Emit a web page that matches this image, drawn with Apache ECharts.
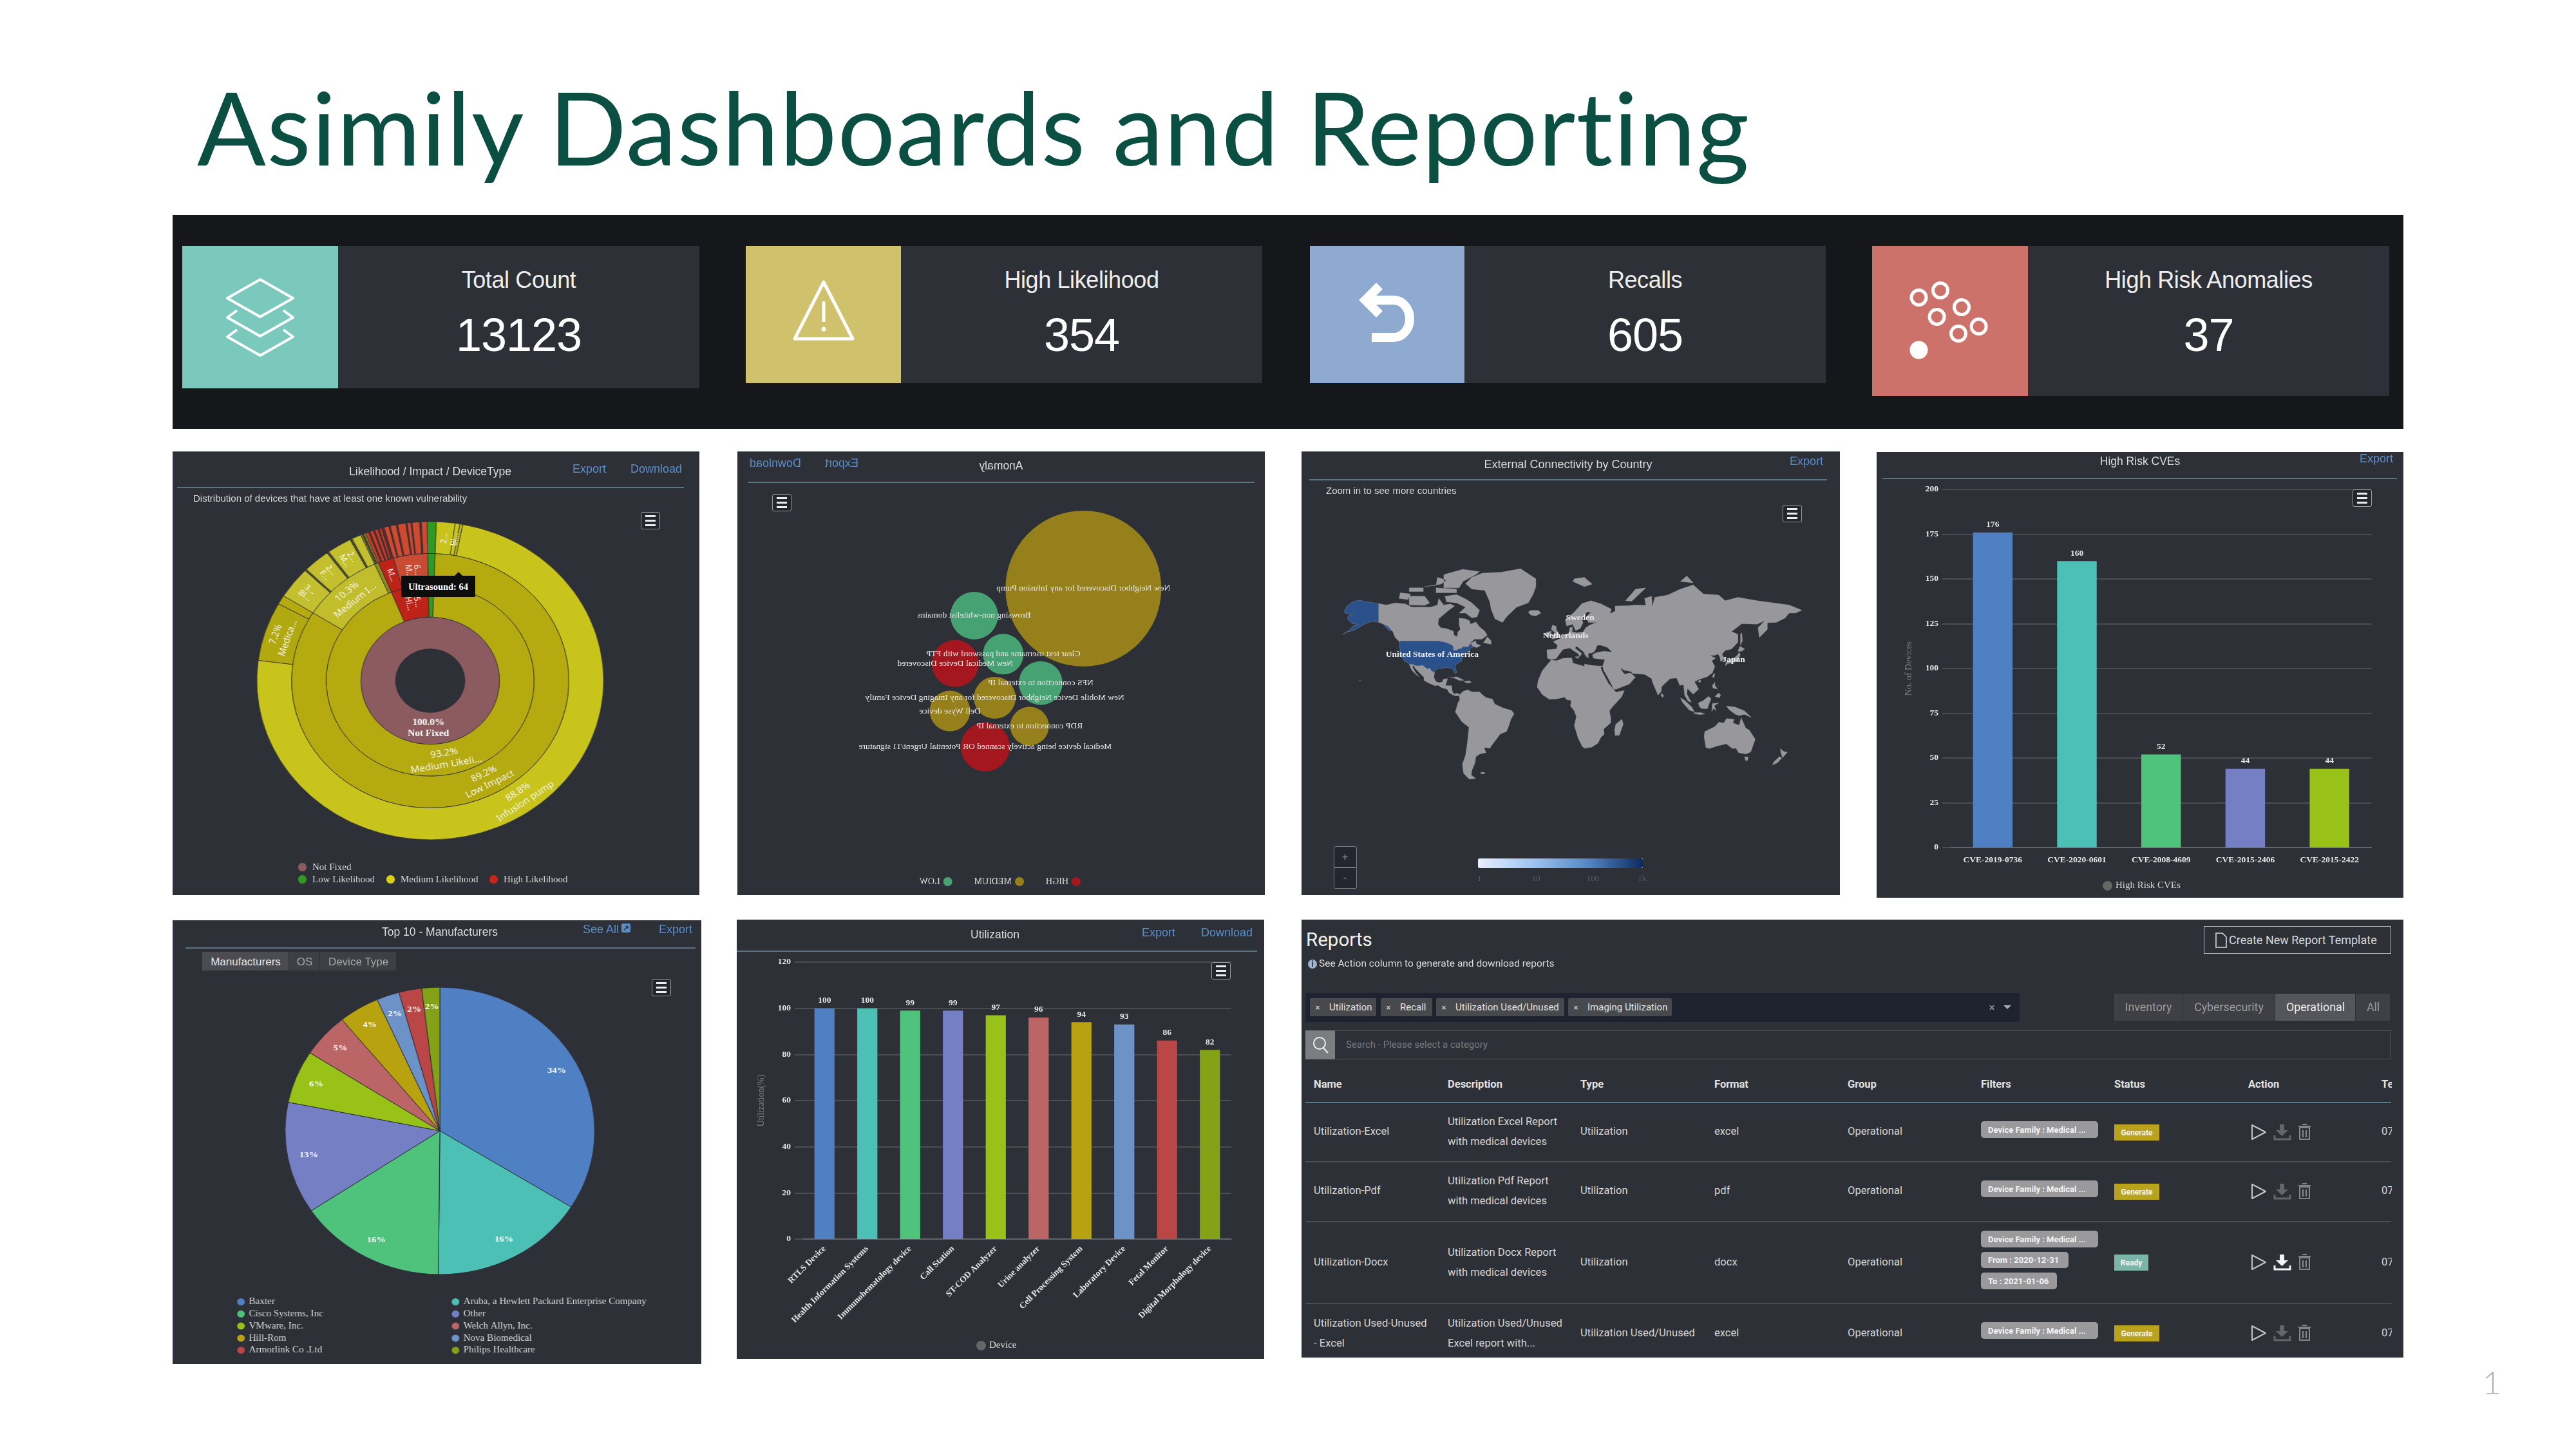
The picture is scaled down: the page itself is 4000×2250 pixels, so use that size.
<!DOCTYPE html>
<html>
<head>
<meta charset="utf-8">
<title>Asimily Dashboards and Reporting</title>
<script src="https://cdn.jsdelivr.net/npm/echarts@6/dist/echarts.min.js"></script>
<style>
html,body{margin:0;padding:0;background:#fff;}
#page{position:relative;width:4000px;height:2250px;overflow:hidden;background:#fff;font-family:"Liberation Sans",Arial,sans-serif;}
.box{position:absolute;}
.panel{position:absolute;background:#2d3037;overflow:hidden;}
.t{position:absolute;white-space:nowrap;line-height:1;transform:translateY(-50%);}
.c{transform:translate(-50%,-50%);}
.link{color:#5b8ec9;font-size:18px;}
.menu{position:absolute;box-sizing:border-box;border:1.5px solid #9a9a9a;border-radius:3px;background:#23262c;}
.menu i{position:absolute;left:20%;right:20%;top:50%;height:3px;margin-top:-1.5px;background:#eee;box-shadow:0 7px 0 #eee,0 -7px 0 #eee;}
.dot{position:absolute;border-radius:50%;}
.chart{position:absolute;left:0;top:0;}
.ext{display:inline-block;width:14px;height:14px;line-height:14px;margin-left:4px;background:#5b8ec9;color:#2d3037;border-radius:2px;font-size:12px;font-weight:bold;text-align:center;vertical-align:top;}
svg.over{position:absolute;left:0;top:0;pointer-events:none;}
</style>
</head>
<body>
<div id="page"></div>
<script>
// top cards
var cardNames = ['Total Count', 'High Likelihood', 'Recalls', 'High Risk Anomalies'];
var cardValues = ['13123', '354', '605', '37'];

// sunburst, counts per ring, clockwise from the top
var likelihoodNames = ['Medium Likelihood', 'High Likelihood', 'Low Likelihood'];
var lowImpactNames = ['Patient Monitor', 'Blood Analyzer', 'Glucose Meter', 'Infusion pump', 'Medical Cart', 'Other'];
var lowImpactCounts = [70, 17, 11, 2953, 239, 37];
var mediumImpactNames = ['Blood Gas', 'Scale', 'Fetal Monitor', 'ECG', 'Monitor', 'Pump', 'Cart'];
var mediumImpactCounts = [128, 7, 100, 8, 92, 8, 35];
var highImpactCounts = [6, 6, 7];
var highMedCounts = [12, 5, 14, 5, 12, 5, 9, 10];
var highLowCounts = [18, 5, 22, 6, 30, 5, 14, 4, 28, 6, 22];
var lowLikelihoodCount = 33;

// anomaly bubbles: x,y in percent of the panel, size in px
var anomalyHighNames = ['New Medical Device Discovered', 'Medical device being actively scanned OR Potential Urgent/11 signature'];
var anomalyHighX = [58.7, 53.0];
var anomalyHighY = [52.2, 33.4];
var anomalyHighSize = [73, 76];
var anomalyMediumNames = ['New Neighbor Discovered for any Infusion Pump', 'New Mobile Device Neighbor Discovered for any Imaging Device Family', 'Dell Wyse device', 'RDP connection to external IP'];
var anomalyMediumX = [34.4, 51.2, 59.7, 44.6];
var anomalyMediumY = [69.1, 44.5, 41.5, 38.1];
var anomalyMediumSize = [242, 65, 63, 60];
var anomalyLowNames = ['Browsing non-whitelist domains', 'Clear text username and password with FTP', 'NFS connection to external IP'];
var anomalyLowX = [55.1, 49.6, 42.5];
var anomalyLowY = [63.0, 54.3, 47.8];
var anomalyLowSize = [74, 63, 68];

// map
var mapLabelCountries = ['Sweden', 'Netherlands', 'Japan'];
var usaConnections = 400;
var mapLegendTicks = [1, 10, 100, 1000];
var mapLegendLabels = ['1', '10', '100', '1k'];

// high risk cves
var cveNames = ['CVE-2019-0736', 'CVE-2020-0601', 'CVE-2008-4609', 'CVE-2015-2406', 'CVE-2015-2422'];
var cveCounts = [176, 160, 52, 44, 44];

// manufacturers
var makerNames = ['Baxter', 'Aruba, a Hewlett Packard Enterprise Company', 'Cisco Systems, Inc', 'Other', 'VMware, Inc.', 'Welch Allyn, Inc.', 'Hill-Rom', 'Nova Biomedical', 'Armorlink Co .Ltd', 'Philips Healthcare'];
var makerShare = [34.2, 16.4, 15.6, 12.7, 6.0, 5.0, 4.3, 2.4, 2.4, 1.9];

// utilization
var utilNames = ['RTLS Device', 'Health Information Systems', 'Immunohematology device', 'Call Station', 'ST-COD Analyzer', 'Urine analyzer', 'Cell Processing System', 'Laboratory Device', 'Fetal Monitor', 'Digital Morphology device'];
var utilValues = [100, 100, 99, 99, 97, 96, 94, 93, 86, 82];

// reports table
var reportColumns = ['Name', 'Description', 'Type', 'Format', 'Group', 'Filters', 'Status', 'Action', 'Te'];
var reportRows = [
    [['Utilization-Excel'], ['Utilization Excel Report', 'with medical devices'], 'Utilization', 'excel', 'Operational', ['Device Family : Medical ...'], 'Generate'],
    [['Utilization-Pdf'], ['Utilization Pdf Report', 'with medical devices'], 'Utilization', 'pdf', 'Operational', ['Device Family : Medical ...'], 'Generate'],
    [['Utilization-Docx'], ['Utilization Docx Report', 'with medical devices'], 'Utilization', 'docx', 'Operational', ['Device Family : Medical ...', 'From : 2020-12-31', 'To : 2021-01-06'], 'Ready'],
    [['Utilization Used-Unused', '- Excel'], ['Utilization Used/Unused', 'Excel report with...'], 'Utilization Used/Unused', 'excel', 'Operational', ['Device Family : Medical ...'], 'Generate']
];
var reportChips = ['Utilization', 'Recall', 'Utilization Used/Unused', 'Imaging Utilization'];
var reportTabs = ['Inventory', 'Cybersecurity', 'Operational', 'All'];

var palette = ['#5080c4', '#4cc0b5', '#4fc27b', '#757fc4', '#98c217', '#bc6567', '#b9a20f', '#6d92c8', '#ba4646', '#84a218'];
var serif = '"Liberation Serif"';
var page = document.getElementById('page');

function el(parent, tag, cls, css, html) {
    var d = document.createElement(tag);
    if (cls) d.className = cls;
    if (css) d.style.cssText = css;
    if (html !== undefined) d.innerHTML = html;
    parent.appendChild(d);
    return d;
}
function rect(parent, x, y, w, h, bg, extra) {
    return el(parent, 'div', 'box', 'left:' + x + 'px;top:' + y + 'px;width:' + w + 'px;height:' + h + 'px;background:' + bg + ';' + (extra || ''));
}
function txt(parent, x, y, s, css, center) {
    return el(parent, 'div', center ? 't c' : 't', 'left:' + x + 'px;top:' + y + 'px;' + (css || ''), s);
}
function menu(parent, x, y, w, h) {
    el(parent, 'div', 'menu', 'left:' + x + 'px;top:' + y + 'px;width:' + w + 'px;height:' + h + 'px;', '<i></i>');
}
// panel with its heading, rule and links, all in panel px
function panel(x, y, w, h, o) {
    var p = el(page, 'div', 'panel', 'left:' + x + 'px;top:' + y + 'px;width:' + w + 'px;height:' + h + 'px;' + (o.flip ? 'transform:scaleX(-1);' : ''));
    var c = el(p, 'div', 'chart', 'width:' + (w / (o.stretch || 1)) + 'px;height:' + h + 'px;transform-origin:0 0;' + (o.stretch ? 'transform:scaleX(' + o.stretch + ');' : ''));
    p.chartDom = c;
    txt(p, o.title[0], o.title[1], o.title[2], 'font-size:' + (o.titleSize || 17.5) + 'px;color:#dcdcdc;', true);
    rect(p, o.rule[0], o.rule[2], o.rule[1] - o.rule[0], 1.5, '#5b7484');
    (o.links || []).forEach(function (l) { txt(p, l[0], o.linkY, l[1], '', false).className += ' link'; });
    if (o.note) txt(p, o.note[0], o.note[1], o.note[2], 'font-size:15px;color:#d8d8d8;');
    menu(p, o.menu[0], o.menu[1], 30, 27);
    return p;
}

/* ---------- page heading ---------- */
txt(page, 306, 196, 'Asimily Dashboards and Reporting', 'font-family:Lato;font-size:158px;color:#0b4f43;letter-spacing:1.25px;');
txt(page, 3855, 2146, '1', 'font-family:Lato;font-weight:300;font-size:50px;color:#b4b4b4;');

/* ---------- top band ---------- */
rect(page, 268, 334, 3464, 332, '#16171b');
var cardBoxes = [[283, 525, 1086, 382, 603, '#7bc8bd'], [1158, 1399, 1960, 382, 595, '#d0c26c'], [2034, 2274, 2835, 382, 595, '#8eaad0'], [2907, 3149, 3710, 382, 615, '#cd726a']];
cardBoxes.forEach(function (b, i) {
    rect(page, b[0], b[3], b[1] - b[0], b[4] - b[3], b[5]);
    rect(page, b[1], b[3], b[2] - b[1], b[4] - b[3], '#2d3037');
    var cx = (b[1] + b[2]) / 2;
    txt(page, cx, 435, cardNames[i], 'font-size:36px;color:#eee;letter-spacing:-0.4px;', true);
    txt(page, cx, 520, cardValues[i], 'font-size:72px;color:#fff;letter-spacing:-1px;', true);
});

/* ---------- 1. sunburst ---------- */
var p1 = panel(268, 701, 818, 689, {
    stretch: 1.09,
    title: [400, 32, 'Likelihood / Impact / DeviceType'],
    rule: [7, 794, 55], linkY: 27,
    links: [[621, 'Export'], [711, 'Download']],
    note: [32, 72, 'Distribution of devices that have at least one known vulnerability'],
    menu: [727, 94]
});
function kids(names, counts, colors, labels) {
    return counts.map(function (v, i) {
        var item = { name: names ? names[i] : 'Device ' + i, value: v, itemStyle: { color: colors[i % colors.length] } };
        var lb = labels && labels[i];
        item.label = lb ? lb : { show: false };
        return item;
    });
}
function radialLabel(s) { return { show: true, rotate: 'radial', formatter: s, fontSize: 12, color: '#fff', fontFamily: 'Noto Sans' }; }
function tanLabel(s) { return { show: true, rotate: 'tangential', formatter: s, fontSize: 14, color: '#f4f4f4', lineHeight: 18, fontFamily: 'Noto Sans' }; }
var lowImpact = {
    name: 'Low Impact', itemStyle: { color: '#b5aa10' }, label: tanLabel('89.2%\nLow Impact'),
    children: kids(lowImpactNames, lowImpactCounts, ['#c9c41c', '#c9c41c', '#b9b41c', '#c9c41c', '#b2a80f', '#b5aa10'],
        [radialLabel('2...'), radialLabel('Bl...'), null, tanLabel('88.8%\nInfusion pump'), tanLabel('7.2%\nMedica...'), null])
};
var mediumImpact = {
    name: 'Medium Impact', itemStyle: { color: '#c2bd2c' }, label: tanLabel('10.3%\nMedium I...'),
    children: kids(mediumImpactNames, mediumImpactCounts, ['#c4bf2e', '#4f4f28', '#c4bf2e', '#4f4f28', '#c4bf2e', '#4f4f28', '#c4bf2e'],
        [radialLabel('3...\nBl...'), null, radialLabel('2...\nF...'), null, radialLabel('2...\nM...'), null, null])
};
var highImpact = {
    name: 'High Impact', itemStyle: { color: '#8f8a20' }, label: { show: false },
    children: kids(null, highImpactCounts, ['#8f8a20', '#4f4f28', '#8f8a20'])
};
var highMed = {
    name: 'Medium Impact', itemStyle: { color: '#be2318' }, label: radialLabel('M...'),
    children: kids(null, highMedCounts, ['#c93b26', '#5e2a28'])
};
var highLow = {
    name: 'Low Impact', itemStyle: { color: '#c84b32' }, label: radialLabel('6...\nM...'),
    children: kids(null, highLowCounts, ['#cf4a2e', '#5e2a28'])
};
var sunburstData = [{
    name: 'Not Fixed', itemStyle: { color: '#8b5b60' },
    label: { show: true, rotate: 0, formatter: '100.0%\nNot Fixed', fontFamily: serif, fontWeight: 'bold', fontSize: 14, color: '#fff', lineHeight: 17 },
    children: [
        { name: likelihoodNames[0], itemStyle: { color: '#b5aa10' }, label: tanLabel('93.2%\nMedium Likeli...'), children: [lowImpact, mediumImpact, highImpact] },
        { name: likelihoodNames[1], itemStyle: { color: '#bd2316' }, label: radialLabel('5...\nHi...'), children: [highMed, highLow] },
        { name: likelihoodNames[2], itemStyle: { color: '#2f9b22' }, label: { show: false }, children: [{ name: 'Low Impact', itemStyle: { color: '#2f9b22' }, label: { show: false }, children: [{ name: 'Monitor', value: lowLikelihoodCount, itemStyle: { color: '#2f9b22' }, label: { show: false } }] }] }
    ]
}];
echarts.init(p1.chartDom).setOption({
    animation: false,
    series: [{
        type: 'sunburst', center: [367, 356], radius: [49.4, 247], startAngle: 88, sort: null, nodeClick: false,
        emphasis: { focus: 'none' },
        itemStyle: { borderColor: '#2d3037', borderWidth: 0.8 },
        label: { align: 'center' },
        data: sunburstData
    }]
});
// sunburst has no legend of its own
[[201, 645, '#8b5b60', 'Not Fixed'], [201, 664, '#2f9b22', 'Low Likelihood'], [338, 664, '#d9cf17', 'Medium Likelihood'], [498, 664, '#c8261a', 'High Likelihood']].forEach(function (l) {
    el(p1, 'div', 'dot', 'left:' + (l[0] - 6) + 'px;top:' + (l[1] - 6) + 'px;width:12.5px;height:12.5px;background:' + l[2] + ';');
    txt(p1, l[0] + 16, l[1], l[3], 'font-family:' + serif + ';font-size:15px;color:#d8d8d8;');
});
rect(p1, 355, 193, 115, 33, '#0d0d0d');
el(p1, 'div', 'box', 'left:438px;top:187px;width:0;height:0;border-left:6px solid transparent;border-right:6px solid transparent;border-bottom:6px solid #0d0d0d;');
txt(p1, 412.5, 209.5, 'Ultrasound: 64', 'font-family:' + serif + ';font-weight:bold;font-size:14.5px;color:#fff;', true);

/* ---------- 2. anomaly, the whole panel is mirrored in the reference ---------- */
var p2 = panel(1145, 701, 819, 689, {
    flip: true,
    title: [409.5, 23, 'Anomaly'],
    rule: [16, 803, 47], linkY: 18,
    links: [[631, 'Export'], [720, 'Download']],
    menu: [735, 66]
});
function bubbles(name, color, names, xs, ys, sizes) {
    return {
        name: name, type: 'scatter',
        itemStyle: { color: color, opacity: 1 },
        label: { show: true, position: 'inside', formatter: '{b}', color: '#e8e8e8', fontFamily: serif, fontSize: 13.5 },
        data: names.map(function (n, i) { return { name: n, value: [xs[i], ys[i]], symbolSize: sizes[i] }; })
    };
}
echarts.init(p2.chartDom).setOption({
    animation: false,
    legend: { left: 281, top: 656, itemGap: 34, itemWidth: 14, itemHeight: 14, icon: 'circle', data: ['HIGH', 'MEDIUM', 'LOW'], textStyle: { color: '#dcdcdc', fontFamily: serif, fontSize: 14 } },
    grid: { left: 0, right: 0, top: 0, bottom: 0 },
    xAxis: { type: 'value', min: 0, max: 100, show: false },
    yAxis: { type: 'value', min: 0, max: 100, show: false },
    series: [
        bubbles('HIGH', '#a5171f', anomalyHighNames, anomalyHighX, anomalyHighY, anomalyHighSize),
        bubbles('MEDIUM', '#96801c', anomalyMediumNames, anomalyMediumX, anomalyMediumY, anomalyMediumSize),
        bubbles('LOW', '#47a273', anomalyLowNames, anomalyLowX, anomalyLowY, anomalyLowSize)
    ]
});

/* ---------- 3. map ---------- */
var landParts = {
    usa: [
        [[-124.7,48.4],[-123,49],[-95,49],[-89,48],[-84.5,46.5],[-82.5,45.3],[-82.5,42.5],[-79,42.8],[-79,43.5],[-76,44],[-75,45],[-71,45],[-69,47.3],[-67,45],[-70,43.5],[-70,41.7],[-74,40.6],[-75.5,38],[-76,35],[-78,33.9],[-81,32],[-81,30],[-80,26.8],[-80.5,25.2],[-82,26.5],[-83,29],[-85,29.7],[-89,30.2],[-90,29.2],[-94,29.6],[-97.3,27.5],[-97.2,25.9],[-99.5,27.5],[-101,29.7],[-103,29],[-106.5,31.8],[-111,31.3],[-114.8,32.5],[-117.1,32.5],[-118.5,34],[-120.6,34.6],[-122.4,37.5],[-124,40],[-124.2,43]],
        [[-168,65.5],[-166,68.3],[-162,70.3],[-156.5,71.3],[-150,70.5],[-141,69.7],[-141,60.3],[-137,58.9],[-133,55.5],[-130,55],[-134,58],[-139,59.8],[-146,60.6],[-151,59.5],[-154,58],[-160,55.5],[-165,54.5],[-161,58],[-157,58.8],[-162,59.5],[-165,61.5],[-165,63.5],[-161,64.5],[-166,64.6]],
        [[-165,54.5],[-169,53],[-165,55]]
    ],
    canada: [
        [[-141,69.7],[-135,69],[-128,70],[-120,69.5],[-115,68],[-108,68],[-100,68],[-95,69],[-94,72],[-90,69],[-85,69.5],[-81.5,68.5],[-87,66],[-94,62],[-94.5,59],[-92.5,57],[-88,56.5],[-82.5,55],[-82,52.5],[-79.5,51.5],[-79,54.5],[-77,56],[-78,58.7],[-78,62.4],[-73,62],[-70,61],[-69,59],[-65,60.3],[-62,57.5],[-58,55],[-56,52.5],[-60,50],[-66,50],[-70,47],[-65,49],[-64.5,47],[-61,46],[-64,44.5],[-67,45],[-69,47.3],[-71,45],[-75,45],[-76,44],[-79,43.5],[-79,42.8],[-82.5,42.5],[-82.5,45.3],[-84.5,46.5],[-89,48],[-95,49],[-123,49],[-124.7,48.4],[-128,51],[-130,55],[-133,55.5],[-137,58.9],[-141,60.3]],
        [[-80,73.7],[-72,71.5],[-68,70],[-62,66.5],[-64,63],[-68,62.5],[-73,65],[-78,65],[-73,68],[-80,70],[-88,70.5],[-89,73]],
        [[-117,69],[-105,68.8],[-101,70],[-105,73],[-117,73]],
        [[-125,72],[-118,71.5],[-116,74],[-124,74.5]],
        [[-90,76.5],[-78,76.5],[-75,79],[-65,81.5],[-62,82.5],[-75,83.3],[-90,81.5]],
        [[-96,74.5],[-80,74.5],[-80,76],[-96,76.5]],
        [[-117,75],[-106,75],[-106,76.5],[-117,76.5]],
        [[-105,77],[-96,77.5],[-95,80.5],[-88,79.5],[-92,78]],
        [[-59,47.7],[-53,46.7],[-53,49],[-56,51.5]]
    ],
    other: [
        [[-73,78.2],[-68,76],[-58,75.5],[-54,70.5],[-53,67],[-50,62],[-44,60],[-41,63],[-33,68],[-24,70],[-20,74],[-18,77],[-18,80],[-30,83.5],[-45,82.3],[-60,82],[-68,80.5]],
        [[-24,65.5],[-22,64],[-18,63.5],[-14,65],[-16,66.4],[-22,66.4]],
        [[-117.1,32.5],[-114.8,32.5],[-111,31.3],[-106.5,31.8],[-103,29],[-101,29.7],[-99.5,27.5],[-97.2,25.9],[-97.8,22.5],[-96,19],[-94,18.2],[-91,18.7],[-90.5,21],[-87,21.5],[-88,18],[-88.8,15.9],[-84,15.8],[-83.3,11],[-82,9],[-79.5,9.5],[-77.3,8.6],[-78,7.5],[-80.5,7.3],[-83,8.2],[-85.8,10],[-87.5,13],[-91.5,14],[-94.5,16.1],[-97,15.8],[-102,18],[-105.5,20],[-105.5,22.5],[-109,26],[-112.8,30],[-113,31.5],[-114.7,31],[-112,26],[-109.5,23],[-111,24],[-115,28]],
        [[-85,22],[-80,23],[-74.2,20.2],[-77.5,19.9],[-82,22]],
        [[-74.4,19],[-70,19.8],[-68.4,18.5],[-71.5,17.8]],
        [[-156,19.5],[-155,19.5],[-155.5,20.2]],
        [[-77.3,8.6],[-75,11],[-71.5,12.4],[-68,10.7],[-62,10.7],[-60,8.5],[-57,6],[-52,4.7],[-50,0.5],[-44,-2.5],[-37,-4.8],[-35,-7.5],[-37.5,-12],[-39,-17],[-41,-22],[-46,-24],[-48.5,-27.5],[-52,-32],[-54,-34.8],[-58.5,-34.2],[-57,-38],[-62,-39],[-65,-41],[-65.5,-45],[-68,-50],[-68.5,-53],[-65,-55],[-70,-55.5],[-74.5,-52],[-75.5,-46],[-73,-40],[-71.5,-30],[-70.3,-18.5],[-76,-14],[-81,-6],[-80,-2.5],[-79,1.5],[-77.5,4],[-77.9,7]],
        [[-61,-51.3],[-58,-51.3],[-58,-52.2],[-61,-52.2]],
        [[-6,35.8],[-2,35.2],[3,36.9],[10,37.3],[11,33.5],[15,32.3],[20,31],[20,32.8],[25,31.8],[32,31.2],[34.2,31.3],[32.6,29.8],[34,26.5],[37,21],[38.5,18],[43,12.5],[44.5,10.5],[51.2,11.8],[49,6.5],[42,-1.5],[39.5,-5],[40.5,-11],[40.5,-15],[35,-20],[35.5,-24],[32.8,-26.5],[30.5,-31],[25.7,-34],[20,-34.8],[18.3,-33.5],[15,-27],[12,-17],[13.7,-10],[12,-5],[9,-1],[9.7,3.5],[6,4.3],[4.5,6.3],[-2,4.8],[-7.5,4.5],[-13,8.5],[-17,14.7],[-16.2,20],[-13,27.7],[-9.8,31.5]],
        [[49.3,-12],[50.3,-16],[47.2,-25],[44,-25],[43.5,-21],[44.5,-16]],
        [[-5.5,50],[1.5,51.2],[0,53.5],[-2,55.8],[-2,57.7],[-5,58.6],[-6,56],[-3,54],[-5,52]],
        [[-10,52],[-6,52.2],[-6,55],[-10,54.2]],
        [[11,79],[20,77],[26,78],[20,80.5],[12,80]],
        [[52,71],[57,70.8],[68,76.5],[60,76]],
        [[95,79],[105,78.5],[100,81]],
        [[142,46],[143.5,49],[143,54],[142,53]],
        [[120,23],[121,22],[122,25],[121,25.3]],
        [[108.8,19],[110.5,18.3],[111,20],[109.5,20]],
        [[79.8,8],[81,6],[82,7.5],[80.2,9.7]],
        [[120,16],[122,18.5],[122,16],[124,13],[120.5,13.8]],
        [[122,7],[125.5,5.8],[126.5,8],[125,9.8]],
        [[95,5.6],[98,4],[104,-2],[106,-6],[102,-4.5],[97,1.5]],
        [[105.5,-6.5],[111,-6.5],[114.5,-7.7],[110,-8.2],[106,-7.5]],
        [[109,1.5],[113,3.5],[117,7],[119,5],[117.5,1],[116,-3.5],[111,-3],[109.5,-0.5]],
        [[119.5,-5.5],[120,1],[125,1.5],[121.5,-0.8],[123,-5],[121,-3]],
        [[131,-1],[138,-2],[145,-5],[150.5,-10.5],[145,-8],[141,-9],[138,-8],[133,-4]],
        [[114,-22],[113.5,-26],[115,-34.5],[118,-35],[124,-33],[131,-31.5],[135.5,-35],[138.5,-34.8],[140.5,-38],[146,-39],[150,-37.5],[153.5,-28],[149,-21],[146,-19],[142.5,-10.8],[141,-17],[136,-15],[137,-12],[131,-11.5],[129,-15],[125,-14.5],[122,-18],[117,-20.5]],
        [[145,-41],[148,-41],[147.5,-43.5],[146,-43.5]],
        [[173,-35],[175.5,-37],[178.5,-37.8],[175,-41.5],[174,-39.5]],
        [[172.5,-40.7],[174.3,-41.8],[171,-45],[167,-46.5],[168,-44.5]],
        [[12.5,38],[15.5,38.2],[15,36.7]]
    ],
    eurasia: [[-9,37],[-9.4,43],[-2,43.5],[-1,46],[-4.5,48.4],[1.5,50.5],[4,52],[8,54],[8.5,57],[10.5,57.5],[10.5,54.5],[14,54],[19,54.5],[21,57],[24,58.5],[28,59.7],[30,60],[23,60],[21.5,63],[25,65.5],[22,65.7],[17.5,62],[18.8,59.8],[16.5,56.5],[13,55.5],[11,59],[6,58],[5,61.5],[12,65.5],[18,69.7],[25,71],[33,69.5],[41,67],[40,64.8],[44,66],[44,68.5],[54,68.7],[60,69],[68,68.8],[67,72],[72.5,73],[73,68],[75,72.5],[85,73.5],[95,76],[105,77.7],[113,74],[125,73.5],[130,71],[140,72.5],[155,71],[170,69.8],[180,69],[190,66.5],[185,65],[180,65],[177,62.5],[170,60],[163,59.8],[163,56],[156.7,51],[155.7,57],[161,61],[155,59],[143,59.3],[135,54.7],[140,53],[140,48],[135,43.5],[130,42.5],[127.5,39.8],[129.5,36.5],[126.5,34.5],[126,37.5],[124.5,40],[121.5,39],[118,39],[122.5,37],[119.5,35],[122,31],[120,26],[116,23],[110,21],[106,19],[109.3,13],[105,8.7],[100.5,13.5],[100,9],[103.5,2],[101,3],[98.3,8],[97.5,16.5],[94.5,16],[92,22],[87,21.5],[80.3,15],[80,11],[77.5,8],[73,19],[72.5,21.5],[67,24.8],[57.5,25.5],[56.5,27],[51,28],[48,30],[50,26.5],[51.5,25],[56,26],[59.8,22.5],[55,17],[45,13],[43,12.7],[39,21],[35,28],[34.2,31.3],[36,36],[31,36.5],[27,37],[26.2,39.5],[29,41],[35,42],[41.5,41.5],[38,44.5],[33,46],[30,46],[28,42],[26,40.8],[23,40.5],[23,37],[21,38.5],[19.3,41.5],[14,45.3],[12.5,44.2],[18,40.3],[16,38],[15.5,40],[12,42],[8.5,44.2],[3.2,43.2],[0,39.5],[-2,36.8],[-6,36]],
    caspian: [[47,45],[53,46.5],[53,41],[54,37],[50,37.5],[49,41]],
    sweden: [[11,59],[13,55.5],[16.5,56.5],[18.8,59.8],[17.5,62],[22,65.7],[23.5,68],[20,69],[15,66],[12.5,61]],
    netherlands: [[3.5,51.4],[6,51],[7,53.3],[4.8,53.2]],
    japan: [
        [[130.2,31.3],[132,33],[135.5,33.6],[140,35],[141.8,39.5],[141,41.3],[139.8,39.5],[136.8,37],[133,35.5],[130.5,33.8]],
        [[140,42],[141.5,45.4],[145.3,43.5],[143,42]]
    ]
};
function multi(name, polys) {
    return { type: 'Feature', properties: { name: name }, geometry: { type: 'MultiPolygon', coordinates: polys.map(function (r) { return [r]; }) } };
}
function single(name, rings) {
    return { type: 'Feature', properties: { name: name }, geometry: { type: 'Polygon', coordinates: rings } };
}
echarts.registerMap('world', {
    type: 'FeatureCollection',
    features: [
        single('Eurasia', [landParts.eurasia, landParts.caspian]),
        multi('Other land', landParts.other),
        multi('Canada', landParts.canada),
        multi('United States of America', landParts.usa),
        single('Sweden', [landParts.sweden]),
        single('Netherlands', [landParts.netherlands]),
        multi('Japan', landParts.japan)
    ]
});
var p3 = panel(2021, 701, 836, 689, {
    titleSize: 18,
    title: [414, 20, 'External Connectivity by Country'],
    rule: [12, 816, 43], linkY: 15,
    links: [[758, 'Export']],
    note: [38, 60, 'Zoom in to see more countries'],
    menu: [747, 83]
});
var legendX0 = 274, legendLen = 256, legendMax = 3.02;
function legendX(v) { return legendX0 + Math.log10(v) / legendMax * legendLen; }
var legendGraphics = [];
mapLegendTicks.forEach(function (v, i) {
    if (i > 0) legendGraphics.push({ type: 'rect', left: legendX(v), top: 632, shape: { width: 1.5, height: 15 }, style: { fill: '#e8eefc' } });
    legendGraphics.push({ type: 'text', left: legendX(v) - (i === 3 ? 6 : 1), top: 657, style: { text: mapLegendLabels[i], fill: '#565961', font: '13px ' + serif } });
});
var mapData = mapLabelCountries.map(function (n) { return { name: n, value: NaN, label: { show: true } }; });
mapData.push({ name: 'United States of America', value: Math.log10(usaConnections), label: { show: true } });
echarts.init(p3.chartDom).setOption({
    animation: false,
    visualMap: {
        type: 'continuous', min: 0, max: legendMax, orient: 'horizontal', left: legendX0, top: 632,
        itemWidth: 15, itemHeight: legendLen, calculable: false, hoverLink: false, text: null, padding: 0,
        showLabel: false, formatter: function () { return ''; },
        inRange: { color: ['#eaeefc', '#9cc4f2', '#5488c4', '#0c2a60'] }
    },
    graphic: legendGraphics,
    series: [{
        type: 'map', map: 'world', silent: true, aspectScale: 1, nameProperty: 'name',
        left: 64, top: 182, width: 713, height: 327,
        projection: {
            project: function (p) { return [p[0] * 1.06, -1.25 * Math.log(Math.tan(Math.PI / 4 + 0.4 * p[1] * Math.PI / 180)) * 180 / Math.PI]; },
            unproject: function (p) { return [p[0] / 1.06, (Math.atan(Math.exp(-p[1] * Math.PI / 180 / 1.25)) - Math.PI / 4) / 0.4 * 180 / Math.PI]; }
        },
        itemStyle: { areaColor: '#98989c', borderColor: '#98989c', borderWidth: 0.4 },
        label: { show: false, color: '#eee', fontFamily: serif, fontWeight: 'bold', fontSize: 13.5 },
        data: mapData
    }]
});
var zoomBox = el(p3, 'div', 'box', 'left:50px;top:613px;width:36px;height:66px;box-sizing:border-box;border:1.5px solid #777b82;border-radius:3px;background:#23262f;');
rect(zoomBox, 0, 31, 33, 1.5, '#777b82');
txt(zoomBox, 16.5, 15.5, '+', 'font-size:16px;color:#999;', true);
txt(zoomBox, 16.5, 47.5, '-', 'font-size:16px;color:#999;', true);

/* ---------- 4 and 6. bars ---------- */
function barOption(seriesName, names, values, yMax, yStep, yName, grid, legendLeft, legendTop, rotate) {
    return {
        animation: false,
        legend: { left: legendLeft, top: legendTop, data: [seriesName], icon: 'circle', itemWidth: 15, itemHeight: 15, textStyle: { color: '#dcdcdc', fontFamily: serif, fontSize: 15 } },
        grid: grid,
        xAxis: {
            type: 'category', data: names,
            axisLine: { lineStyle: { color: '#6a6c70', width: 1.5 } }, axisTick: { show: false },
            axisLabel: { interval: 0, rotate: rotate, margin: 13, color: '#e6e6e6', fontFamily: serif, fontWeight: 'bold', fontSize: 13.5 }
        },
        yAxis: {
            type: 'value', min: 0, max: yMax, interval: yStep, name: yName, nameLocation: 'middle', nameGap: 58,
            nameTextStyle: { color: '#7a7d82', fontFamily: serif, fontSize: 14 },
            // the rules run a little past the first category in the reference
            axisLine: { show: false }, axisTick: { show: true, length: 13, lineStyle: { color: '#55585d', width: 1.5 } },
            axisLabel: { margin: 19, color: '#e6e6e6', fontFamily: serif, fontWeight: 'bold', fontSize: 13.5 },
            splitLine: { lineStyle: { color: '#55585d', width: 1.5 } }
        },
        series: [{
            name: seriesName, type: 'bar', barWidth: '47%',
            itemStyle: { color: '#666' },
            label: { show: true, position: 'top', distance: 5, color: '#e6e6e6', fontFamily: serif, fontWeight: 'bold', fontSize: 13.5 },
            data: values.map(function (v, i) { return { value: v, itemStyle: { color: palette[i], opacity: 1 } }; })
        }]
    };
}
var p4 = panel(2914, 702, 818, 692, {
    title: [409, 15, 'High Risk CVEs'],
    rule: [9, 808, 40], linkY: 10,
    links: [[750, 'Export']],
    menu: [739, 58]
});
echarts.init(p4.chartDom).setOption(barOption('High Risk CVEs', cveNames, cveCounts, 200, 25, 'No. of Devices', { left: 115, width: 653.5, top: 58, height: 556 }, 346, 661, 0));

var p6 = panel(1144, 1428, 819, 682, {
    title: [401, 24, 'Utilization'],
    rule: [0, 808, 48], linkY: 20,
    links: [[629, 'Export'], [721, 'Download']],
    menu: [737, 66]
});
echarts.init(p6.chartDom).setOption(barOption('Device', utilNames, utilValues, 120, 20, 'Utilization(%)', { left: 103, width: 665, top: 66, height: 430 }, 367, 649, 45));

/* ---------- 5. pie ---------- */
var p5 = panel(268, 1429, 821, 689, {
    stretch: 1.078,
    title: [415, 19, 'Top 10 - Manufacturers'],
    rule: [20, 812, 42], linkY: 14,
    links: [[637, 'See All<span class="ext">&#8599;</span>'], [755, 'Export']],
    menu: [744, 91]
});
[[46, 135, 'Manufacturers', '#4a4c52', '#e4e4e4'], [181, 48, 'OS', '#3e4046', '#a8a8a8'], [229, 119, 'Device Type', '#3e4046', '#a8a8a8']].forEach(function (b) {
    rect(p5, b[0], 49, b[1] - 1, 29, b[3]);
    txt(p5, b[0] + b[1] / 2, 64, b[2], 'font-size:17px;color:' + b[4] + ';', true);
});
var pieData = makerNames.map(function (n, i) { return { name: n, value: makerShare[i] }; });
var pieLegendStyle = { color: '#dcdcdc', fontFamily: serif, fontSize: 14 };
function pieLegend(left, odd) {
    return {
        orient: 'vertical', left: left, top: 585, height: 104, padding: 0, itemWidth: 13, itemHeight: 13, itemGap: 3.8, icon: 'circle', textStyle: pieLegendStyle,
        data: makerNames.filter(function (n, i) { return i % 2 === odd; })
    };
}
echarts.init(p5.chartDom).setOption({
    animation: false,
    color: palette,
    legend: [pieLegend(91, 0), pieLegend(400, 1)],
    series: [
        { type: 'pie', center: [385, 327], radius: [0, 223], startAngle: 90, label: { show: false }, labelLine: { show: false }, itemStyle: { borderColor: '#2d3037', borderWidth: 1 }, data: pieData },
        // second ring only to push the percent labels out towards the rim
        {
            type: 'pie', center: [385, 327], radius: [156, 223], startAngle: 90, silent: true, avoidLabelOverlap: false,
            itemStyle: { color: 'transparent', borderWidth: 0 }, labelLine: { show: false },
            label: { show: true, position: 'inside', color: '#fff', fontFamily: serif, fontWeight: 'bold', fontSize: 13.5, formatter: function (p) { return Math.round(p.value) + '%'; } },
            data: pieData
        }
    ]
});

/* ---------- 7. reports table ---------- */
var p7 = el(page, 'div', 'panel', 'left:2021px;top:1428px;width:1711px;height:680px;font-family:Roboto;');
var rx = function (x) { return x - 2021; }, ry = function (y) { return y - 1428; };
txt(p7, rx(2028), ry(1460), 'Reports', 'font-size:29.5px;color:#f0f0f0;');
el(p7, 'div', 'dot', 'left:' + rx(2031) + 'px;top:' + ry(1490) + 'px;width:14px;height:14px;line-height:14px;background:#9fb2cc;color:#2d3037;font-size:12px;font-weight:bold;text-align:center;', 'i');
txt(p7, rx(2048), ry(1497), 'See Action column to generate and download reports', 'font-size:15.5px;color:#dadada;');
var createBtn = el(p7, 'div', 'box', 'left:' + rx(3422) + 'px;top:' + ry(1438) + 'px;width:291px;height:43px;box-sizing:border-box;border:1.5px solid #b8b8b8;');
txt(createBtn, 38, 21, 'Create New Report Template', 'font-size:18px;color:#d8d8d8;');
rect(p7, rx(2027), ry(1542), 1109, 44.5, '#1f2330', 'border-radius:4px;');
var chipBoxes = [[2034, 2137], [2144, 2223.5], [2230, 2429], [2435, 2596]];
reportChips.forEach(function (s, i) {
    var b = chipBoxes[i];
    rect(p7, rx(b[0]), ry(1550), b[1] - b[0], 27.5, '#48494d', 'border-radius:2px;');
    txt(p7, rx(b[0] + 12), ry(1564), '&times;', 'font-size:13px;color:#ddd;', true);
    txt(p7, rx(b[0] + 30), ry(1564), s, 'font-size:15px;color:#e0e0e0;');
});
txt(p7, rx(3093), ry(1565), '&times;', 'font-size:16px;color:#aaa;', true);
el(p7, 'div', 'box', 'left:' + rx(3111) + 'px;top:' + ry(1561) + 'px;width:0;height:0;border-left:6px solid transparent;border-right:6px solid transparent;border-top:6px solid #aaa;');
var tabEdges = [3283, 3389, 3533, 3658, 3712];
reportTabs.forEach(function (s, i) {
    var on = s === 'Operational';
    rect(p7, rx(tabEdges[i]), ry(1543), tabEdges[i + 1] - tabEdges[i] - 1, 42, on ? '#54565b' : '#3e4046');
    txt(p7, rx((tabEdges[i] + tabEdges[i + 1]) / 2), ry(1564), s, 'font-size:17.8px;color:' + (on ? '#eee' : '#9a9a9a') + ';', true);
});
el(p7, 'div', 'box', 'left:' + rx(2027) + 'px;top:' + ry(1600) + 'px;width:1686px;height:45px;box-sizing:border-box;border:1px solid #55585c;');
rect(p7, rx(2027), ry(1600), 46, 45, '#7c7d80');
txt(p7, rx(2090), ry(1622), 'Search - Please select a category', 'font-size:15px;color:#777a7f;');
var colX = [2040, 2248, 2454, 2662, 2869, 3076, 3283, 3491, 3698];
var rowMid = [1757, 1849, 1960, 2070];
var statusTop = [1746, 1838, 1948, 2058];
var pillTops = [[1741], [1833], [1911, 1943.5, 1976], [2053]];
var pillWidths = [182, 136, 118];
reportColumns.forEach(function (s, i) {
    var clip = i === 8 ? 'width:16px;overflow:hidden;' : '';
    txt(p7, rx(colX[i]), ry(1684), s, 'font-size:16.5px;font-weight:bold;color:#e2e2e2;' + clip);
});
rect(p7, rx(2027), ry(1711), 1686, 1.5, '#5c7a8c');
[1803, 1896, 2023].forEach(function (y) { rect(p7, rx(2027), ry(y), 1686, 1.5, '#4b4d52'); });
var cell = 'font-size:16.6px;color:#d5d5d5;';
function twoLines(x, mid, lines) {
    if (lines.length === 1) { txt(p7, rx(x), ry(mid), lines[0], cell); return; }
    txt(p7, rx(x), ry(mid - 15.5), lines[0], cell);
    txt(p7, rx(x), ry(mid + 15.5), lines[1], cell);
}
reportRows.forEach(function (r, i) {
    var mid = rowMid[i];
    twoLines(colX[0], mid, r[0]);
    twoLines(colX[1], mid, r[1]);
    txt(p7, rx(colX[2]), ry(mid), r[2], cell);
    txt(p7, rx(colX[3]), ry(mid), r[3], cell);
    txt(p7, rx(colX[4]), ry(mid), r[4], cell);
    r[5].forEach(function (s, j) {
        rect(p7, rx(colX[5]), ry(pillTops[i][j]), pillWidths[j], 25.5, '#9a9a9c', 'border-radius:5px;');
        txt(p7, rx(colX[5] + 11), ry(pillTops[i][j] + 12.7), s, 'font-size:13px;font-weight:bold;color:#f4f4f4;');
    });
    var ready = r[6] === 'Ready';
    rect(p7, rx(colX[6]), ry(statusTop[i]), ready ? 53 : 70, 25, ready ? '#7bb5a9' : '#b9a21c');
    txt(p7, rx(colX[6] + (ready ? 26.5 : 35)), ry(statusTop[i] + 12.5), r[6], 'font-size:12px;font-weight:bold;color:#f4f4f4;', true);
    txt(p7, rx(colX[8]), ry(mid), '07', cell + 'width:16px;overflow:hidden;');
});

/* ---------- icons drawn over everything ---------- */
var icons = '';
// layers
[0, 30, 60].forEach(function (d, i) {
    icons += i === 0
        ? '<path d="M404 434 L455 463 L404 492 L353 463 Z" fill="none" stroke="#fff" stroke-width="4" stroke-linejoin="round"/>'
        : '<path d="M368 ' + (452 + d) + ' L353 ' + (463 + d) + ' L404 ' + (492 + d) + ' L455 ' + (463 + d) + ' L440 ' + (452 + d) + '" fill="none" stroke="#fff" stroke-width="4" stroke-linejoin="round"/>';
});
// warning
icons += '<path d="M1279 438 L1324 526 H1234 Z" fill="none" stroke="#fff" stroke-width="5" stroke-linejoin="round"/>'
    + '<path d="M1279 468 V500" stroke="#fff" stroke-width="5"/><circle cx="1279" cy="511" r="3.5" fill="#fff"/>';
// recall arrow
icons += '<path d="M2142 444 L2120 466 L2142 488" fill="none" stroke="#fff" stroke-width="14"/>'
    + '<path d="M2122 466 H2164 A25 29 0 0 1 2164 524 H2130" fill="none" stroke="#fff" stroke-width="14"/>';
// bubbles
[[2979.5, 462], [3013, 451], [3046, 477], [3007.6, 492], [3072.6, 507], [3041, 518]].forEach(function (c) {
    icons += '<circle cx="' + c[0] + '" cy="' + c[1] + '" r="11.5" fill="none" stroke="#fff" stroke-width="5"/>';
});
icons += '<circle cx="2979.5" cy="543.5" r="14" fill="#fff"/>';
// search glass and document
icons += '<circle cx="2049" cy="1620" r="9" fill="none" stroke="#eee" stroke-width="2"/><path d="M2055 1627 L2062 1635" stroke="#eee" stroke-width="2"/>';
icons += '<path d="M3441 1449 H3451 L3457 1455 V1471 H3441 Z" fill="none" stroke="#d8d8d8" stroke-width="1.6"/>';
// table actions
rowMid.forEach(function (m, i) {
    var y = statusTop[i] + 12;
    var dl = i === 2 ? '#f4f4f4' : '#666';
    icons += '<path d="M3497 ' + (y - 11) + ' L3518 ' + y + ' L3497 ' + (y + 11) + ' Z" fill="none" stroke="#c4c4c4" stroke-width="2" stroke-linejoin="round"/>';
    icons += '<path d="M3540 ' + (y - 12) + ' h7 v9 h6 l-9.5 9 l-9.5 -9 h6 Z" fill="' + dl + '"/><path d="M3532 ' + (y + 5) + ' v6 h24 v-6" fill="none" stroke="' + dl + '" stroke-width="3"/>';
    icons += '<path d="M3571 ' + (y - 7) + ' h15 v18 h-15 Z M3569 ' + (y - 9) + ' h19 M3575 ' + (y - 12) + ' h7 M3576 ' + (y - 3) + ' v11 M3581 ' + (y - 3) + ' v11" fill="none" stroke="#a0a0a0" stroke-width="1.6"/>';
});
el(page, 'div', '', 'position:absolute;left:0;top:0;width:4000px;height:2250px;pointer-events:none;',
    '<svg class="over" width="4000" height="2250" viewBox="0 0 4000 2250">' + icons + '</svg>');
</script>
</body>
</html>
